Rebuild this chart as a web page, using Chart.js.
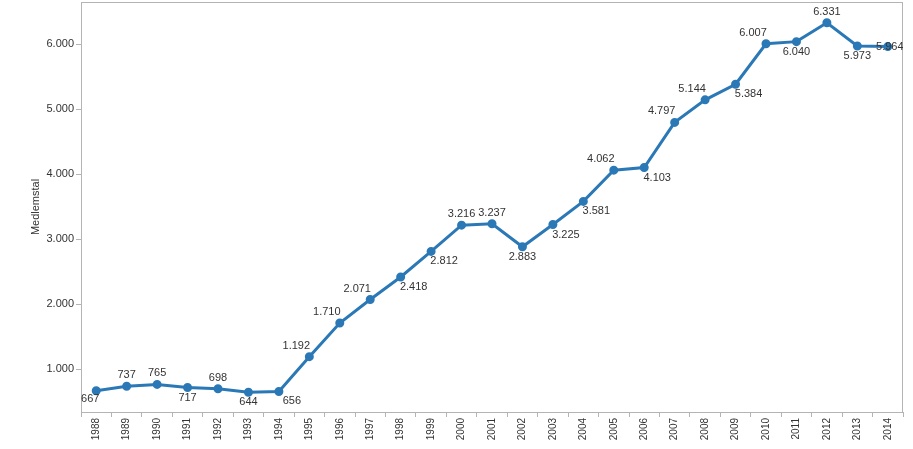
<!DOCTYPE html>
<html>
<head>
<meta charset="utf-8">
<script src="https://cdn.jsdelivr.net/npm/chart.js@4/dist/chart.umd.min.js"></script>
<style>
  html, body { margin: 0; padding: 0; background: #fff; }
  canvas { display: block; }
</style>
</head>
<body>
<canvas id="lineChart" width="913" height="449"></canvas>
<script>
const years = ['1988','1989','1990','1991','1992','1993','1994','1995','1996','1997','1998','1999','2000',
  '2001','2002','2003','2004','2005','2006','2007','2008','2009','2010','2011','2012','2013','2014'];
const medlemstal = [667, 737, 765, 717, 698, 644, 656, 1192, 1710, 2071, 2418, 2812, 3216,
  3237, 2883, 3225, 3581, 4062, 4103, 4797, 5144, 5384, 6007, 6040, 6331, 5973, 5964];
// where each value label sits relative to its point
const labelPlace = ['bl','a','a','b','a','b','br','al','al','al','br','br','a',
  'a','b','br','br','al','br','al','al','br','al','b','a','b','c'];
const yTicks = [1000, 2000, 3000, 4000, 5000, 6000];

const offsets = { a: [0, -11], b: [0, 10], al: [-13, -11], br: [13, 10], bl: [-6, 8], c: [2, 0] };

function fmt(v) {
  return String(v).replace(/\B(?=(\d{3})+(?!\d))/g, '.');
}

const valueLabels = {
  id: 'valueLabels',
  afterDatasetsDraw(chart) {
    const ctx = chart.ctx;
    const area = chart.chartArea;
    const meta = chart.getDatasetMeta(0);
    ctx.save();
    ctx.beginPath();
    ctx.rect(area.left, area.top - 2, area.right - area.left, area.bottom - area.top + 2);
    ctx.clip();
    ctx.font = '11px "Liberation Sans", Arial, sans-serif';
    ctx.fillStyle = '#333';
    ctx.textAlign = 'center';
    ctx.textBaseline = 'middle';
    meta.data.forEach((pt, i) => {
      const off = offsets[labelPlace[i]];
      ctx.fillText(fmt(medlemstal[i]), pt.x + off[0], pt.y + off[1]);
    });
    ctx.restore();
  }
};

const frame = {
  id: 'frame',
  beforeDatasetsDraw(chart) {
    const a = chart.chartArea;
    const ctx = chart.ctx;
    ctx.save();
    ctx.strokeStyle = '#b4b4b4';
    ctx.lineWidth = 1;
    ctx.strokeRect(a.left + 0.5, a.top + 0.5, a.right - a.left - 1, a.bottom - a.top);
    ctx.restore();
  }
};

const ctx = document.getElementById('lineChart').getContext('2d');
new Chart(ctx, {
  type: 'line',
  data: {
    labels: years,
    datasets: [{
      label: 'Medlemstal',
      data: medlemstal,
      borderColor: '#2b78b6',
      backgroundColor: '#2b78b6',
      borderWidth: 3,
      pointRadius: 3,
      pointHoverRadius: 3,
      tension: 0,
      fill: false
    }]
  },
  options: {
    responsive: false,
    animation: false,
    layout: { autoPadding: false, padding: { top: 2, right: 10, left: 0, bottom: 0 } },
    plugins: {
      legend: { display: false },
      tooltip: { enabled: false }
    },
    scales: {
      x: {
        offset: true,
        grid: { offset: true, drawOnChartArea: false, drawTicks: true, tickLength: 5, color: '#b4b4b4' },
        border: { color: '#b4b4b4' },
        ticks: {
          minRotation: 90, maxRotation: 90, autoSkip: false, padding: 1,
          color: '#333',
          font: { family: '"Liberation Sans", Arial, sans-serif', size: 10 }
        },
        afterFit(scale) {
          scale.height = 37;
          scale.paddingLeft = 0;
          scale.paddingRight = 0;
        }
      },
      y: {
        min: 340,
        max: 6650,
        afterBuildTicks(scale) { scale.ticks = yTicks.map(v => ({ value: v })); },
        grid: { drawOnChartArea: false, drawTicks: true, tickLength: 5, color: '#b4b4b4' },
        border: { color: '#b4b4b4' },
        ticks: {
          padding: 2,
          color: '#333',
          font: { family: '"Liberation Sans", Arial, sans-serif', size: 11 },
          callback: v => fmt(v)
        },
        title: {
          display: true,
          text: 'Medlemstal',
          color: '#333',
          font: { family: '"Liberation Sans", Arial, sans-serif', size: 11 },
          padding: { top: 29, bottom: 0 }
        },
        afterFit(scale) {
          scale.width = 81;
          scale.paddingTop = 0;
          scale.paddingBottom = 0;
        }
      }
    }
  },
  plugins: [frame, valueLabels]
});
</script>
</body>
</html>
